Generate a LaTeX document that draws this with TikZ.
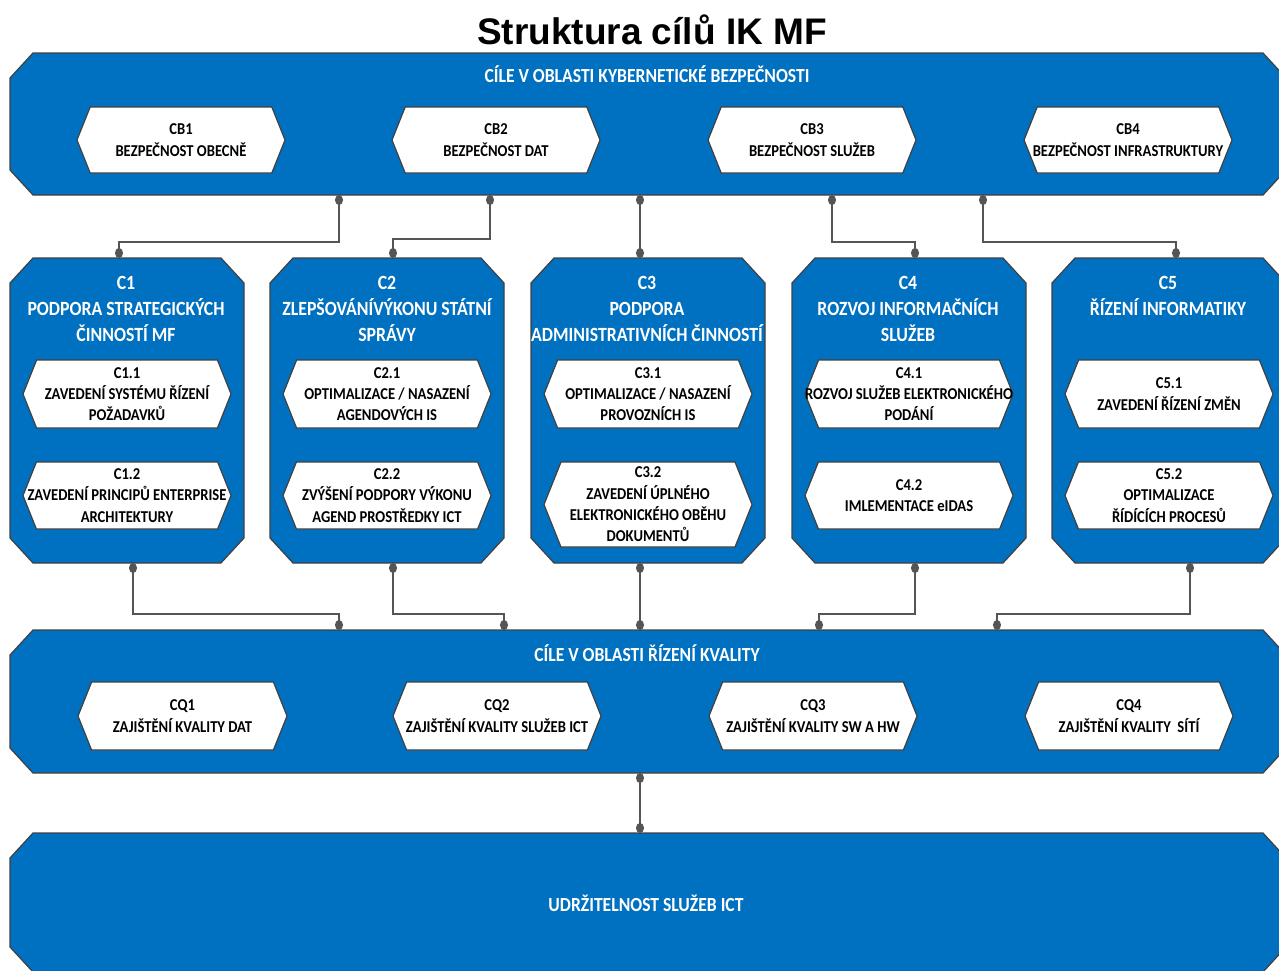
\documentclass[tikz,border=0pt]{standalone}
\usepackage{fontspec}
\setmainfont{Carlito}[FakeStretch=0.88]
\newfontfamily\titlefont{Liberation Sans}
\usetikzlibrary{arrows.meta,calc}
\definecolor{boxblue}{HTML}{0070C0}
\definecolor{edgegray}{HTML}{404040}
\definecolor{wiregray}{HTML}{555555}
\tikzset{
  band/.style={fill=boxblue, draw=edgegray, line width=1.2pt},
  hexfill/.style={fill=white, draw=edgegray, line width=1.2pt},
  hdr/.style={text=white, font=\bfseries\fontsize{20.2}{26}\selectfont, align=center, inner sep=0pt},
  btitle/.style={text=white, font=\bfseries\fontsize{20}{24}\selectfont, inner sep=0pt, anchor=base},
  itxt/.style={text=black, font=\bfseries\fontsize{16.6}{21.3}\selectfont, align=center, inner sep=0pt},
  conn/.style={draw=wiregray, line width=1.3pt, {Circle[length=10pt,width=8pt]}-{Circle[length=10pt,width=8pt]}},
}
\newcommand\octbox[5]{%
  \path[band] (#2+23,#3) -- (#4-23,#3) -- (#4,#3+25) -- (#4,#5-25) -- (#4-23,#5) -- (#2+23,#5) -- (#2,#5-25) -- (#2,#3+25) -- cycle;
  \node[inner sep=0pt, minimum width={(#4-#2)*1pt}, minimum height={(#5-#3)*1pt}] (#1) at ({(#2+#4)/2},{(#3+#5)/2}) {};
}
\newcommand\hexbox[6]{%
  \pgfmathsetmacro\hin{0.2*(#5-#3)}
  \path[hexfill] (#2+\hin,#3) -- (#4-\hin,#3) -- (#4,{(#3+#5)/2}) -- (#4-\hin,#5) -- (#2+\hin,#5) -- (#2,{(#3+#5)/2}) -- cycle;
  \node[itxt] (#1) at ({(#2+#4)/2},{(#3+#5)/2}) {#6};
}
\begin{document}
\begin{tikzpicture}[x=1pt,y=-1pt]
\begin{scope}
\clip (0,0) rectangle (1279,970);
\node[anchor=base, inner sep=0pt, font=\titlefont\bfseries\fontsize{37}{40}\selectfont] (title) at (652,44) {Struktura cílů IK MF};
% bands
\octbox{cb}{10}{53}{1286}{195}
\node[btitle] (cbt) at (647,82.5) {CÍLE V OBLASTI KYBERNETICKÉ BEZPEČNOSTI};
\hexbox{cb1}{77}{107}{285}{173}{CB1\\BEZPEČNOST OBECNĚ}
\hexbox{cb2}{392}{107}{600}{173}{CB2\\BEZPEČNOST DAT}
\hexbox{cb3}{708}{107}{916}{173}{CB3\\BEZPEČNOST SLUŽEB}
\hexbox{cb4}{1024}{107}{1232}{173}{CB4\\BEZPEČNOST INFRASTRUKTURY}
% C boxes
\octbox{c1}{10}{258}{244}{563}
\octbox{c2}{270}{258}{504}{563}
\octbox{c3}{531}{258}{765}{563}
\octbox{c4}{792}{258}{1026}{563}
\octbox{c5}{1052}{258}{1286}{563}
\node[hdr] (h1) at (126,309) {C1\\PODPORA STRATEGICKÝCH\\ČINNOSTÍ MF};
\node[hdr] (h2) at (387,309) {C2\\ZLEPŠOVÁNÍVÝKONU STÁTNÍ\\SPRÁVY};
\node[hdr] (h3) at (647,309) {C3\\PODPORA\\ADMINISTRATIVNÍCH ČINNOSTÍ};
\node[hdr] (h4) at (908,309) {C4\\ROZVOJ INFORMAČNÍCH\\SLUŽEB};
\node[hdr] (h5) at (1168,296) {C5\\ŘÍZENÍ INFORMATIKY};
\hexbox{c11}{23}{360}{231}{428}{C1.1\\ZAVEDENÍ SYSTÉMU ŘÍZENÍ\\POŽADAVKŮ}
\hexbox{c12}{23}{462}{231}{529}{C1.2\\ZAVEDENÍ PRINCIPŮ ENTERPRISE\\ARCHITEKTURY}
\hexbox{c21}{283}{360}{491}{428}{C2.1\\OPTIMALIZACE / NASAZENÍ\\AGENDOVÝCH IS}
\hexbox{c22}{283}{462}{491}{529}{C2.2\\ZVÝŠENÍ PODPORY VÝKONU\\AGEND PROSTŘEDKY ICT}
\hexbox{c31}{544}{360}{752}{428}{C3.1\\OPTIMALIZACE / NASAZENÍ\\PROVOZNÍCH IS}
\hexbox{c32}{544}{462}{752}{547}{C3.2\\ZAVEDENÍ ÚPLNÉHO\\ELEKTRONICKÉHO OBĚHU\\DOKUMENTŮ}
\hexbox{c41}{805}{360}{1013}{428}{C4.1\\ROZVOJ SLUŽEB ELEKTRONICKÉHO\\PODÁNÍ}
\hexbox{c42}{805}{462}{1013}{529}{C4.2\\IMLEMENTACE eIDAS}
\hexbox{c51}{1065}{360}{1273}{428}{C5.1\\ZAVEDENÍ ŘÍZENÍ ZMĚN}
\hexbox{c52}{1065}{462}{1273}{529}{C5.2\\OPTIMALIZACE\\ŘÍDÍCÍCH PROCESŮ}
% quality band
\octbox{cq}{10}{630}{1286}{773}
\node[btitle] (cqt) at (647,661.5) {CÍLE V OBLASTI ŘÍZENÍ KVALITY};
\hexbox{cq1}{78}{682}{287}{750}{CQ1\\ZAJIŠTĚNÍ KVALITY DAT}
\hexbox{cq2}{393}{682}{601}{750}{CQ2\\ZAJIŠTĚNÍ KVALITY SLUŽEB ICT}
\hexbox{cq3}{709}{682}{917}{750}{CQ3\\ZAJIŠTĚNÍ KVALITY SW A HW}
\hexbox{cq4}{1025}{682}{1233}{750}{CQ4\\ZAJIŠTĚNÍ KVALITY\ \ SÍTÍ}
% bottom band
\octbox{ud}{10}{833}{1286}{972}
\node[btitle] (udt) at (646,911) {UDRŽITELNOST SLUŽEB ICT};
% connector ports
\coordinate (t1) at (339,195); \coordinate (t2) at (490,195); \coordinate (t3) at (640,195);
\coordinate (t4) at (832,195); \coordinate (t5) at (983,195);
\coordinate (c1t) at (119,258); \coordinate (c2t) at (393,258); \coordinate (c3t) at (640,258);
\coordinate (c4t) at (915,258); \coordinate (c5t) at (1176,258);
\coordinate (c1b) at (133,563); \coordinate (c2b) at (393,563); \coordinate (c3b) at (640,563);
\coordinate (c4b) at (915,563); \coordinate (c5b) at (1190,563);
\coordinate (q1) at (339,630); \coordinate (q2) at (504,630); \coordinate (q3) at (640,630);
\coordinate (q4) at (819,630); \coordinate (q5) at (997,630);
\coordinate (qb) at (640,773); \coordinate (ut) at (640,833);
\draw[conn] (t1) -- ++(0,47) -| (c1t);
\draw[conn] (t2) -- ++(0,44) -| (c2t);
\draw[conn] (t3) -- (c3t);
\draw[conn] (t4) -- ++(0,47) -| (c4t);
\draw[conn] (t5) -- ++(0,47) -| (c5t);
\draw[conn] (c1b) -- ++(0,51) -| (q1);
\draw[conn] (c2b) -- ++(0,51) -| (q2);
\draw[conn] (c3b) -- (q3);
\draw[conn] (c4b) -- ++(0,51) -| (q4);
\draw[conn] (c5b) -- ++(0,51) -| (q5);
\draw[conn] (qb) -- (ut);
\end{scope}
\pgfresetboundingbox
\useasboundingbox (0,0) rectangle (1279,970);
\end{tikzpicture}
\end{document}
